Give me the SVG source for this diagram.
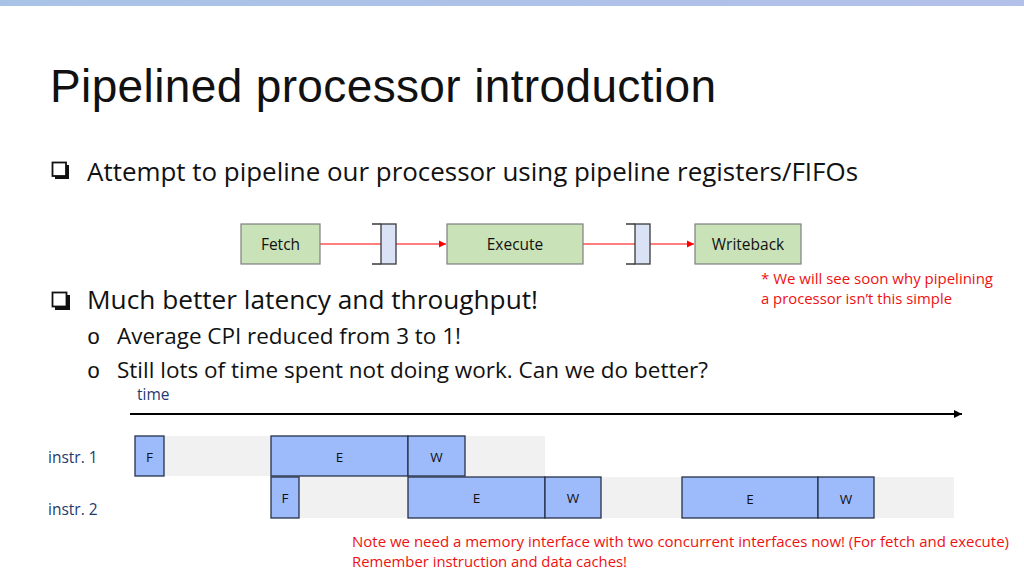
<svg xmlns="http://www.w3.org/2000/svg" width="1024" height="576" viewBox="0 0 1024 576">
<defs>
<linearGradient id="topbar" x1="0" y1="0" x2="1" y2="0">
<stop offset="0" stop-color="#A9C3E6"/>
<stop offset="1" stop-color="#B3C0EA"/>
</linearGradient>
<marker id="redArrow" markerWidth="8" markerHeight="8" refX="7" refY="4" orient="auto" markerUnits="userSpaceOnUse">
<path d="M0,0.5 L7,4 L0,7.5 Z" fill="#FF0000"/>
</marker>
<marker id="blackArrow" markerWidth="9" markerHeight="8" refX="8" refY="4" orient="auto" markerUnits="userSpaceOnUse">
<path d="M0,0 L8,4 L0,8 Z" fill="#000"/>
</marker>
</defs>
<style>
.title{font-family:"Liberation Sans",Arial,sans-serif;font-size:46px;fill:#111}
.bullet{font-family:"Open Sans","Noto Sans",sans-serif;font-size:25px;fill:#111}
.sub{font-family:"Open Sans","Noto Sans",sans-serif;font-size:22.5px;fill:#111}
.obul{font-family:"Liberation Mono",monospace;font-size:22px;fill:#111}
.stage{fill:#C9E2B8;stroke:#7F7F7F;stroke-width:1.2}
.stagetxt{font-family:"Open Sans","Noto Sans",sans-serif;font-size:15.5px;fill:#111;text-anchor:middle}
.reg{fill:#DAE3F6;stroke:#3A3A3A;stroke-width:1.3}
.regtick{stroke:#3A3A3A;stroke-width:1.3;fill:none}
.redline{stroke:#FF0000;stroke-width:1.2;fill:none}
.red{font-family:"Open Sans","Noto Sans",sans-serif;font-size:14.5px;fill:#EE1111}
.blue{font-family:"Open Sans","Noto Sans",sans-serif;font-size:15.5px;fill:#1F3A6E}
.bg{fill:#F1F1F1}
.blk{fill:#9DBAFB;stroke:#263248;stroke-width:1.3}
.blktxt{font-family:"Open Sans","Noto Sans",sans-serif;font-size:13.5px;fill:#111;text-anchor:middle}
</style>
<rect width="1024" height="576" fill="#FFFFFF"/>
<rect x="0" y="0" width="1024" height="6" fill="url(#topbar)"/>

<text class="title" x="50" y="102" textLength="666">Pipelined processor introduction</text>

<!-- bullet 1 -->
<g id="bullet1">
<path d="M55,165 h14 v14 h-14 Z" fill="#111"/>
<rect x="52.5" y="162.5" width="13.5" height="13.5" fill="#FFF" stroke="#111" stroke-width="1.8"/>
<text class="bullet" x="87" y="181" textLength="771" lengthAdjust="spacingAndGlyphs">Attempt to pipeline our processor using pipeline registers/FIFOs</text>
</g>

<!-- pipeline diagram -->
<g id="connectors">
<line class="redline" x1="320" y1="244" x2="381" y2="244"/>
<line class="redline" x1="396" y1="244" x2="446" y2="244" marker-end="url(#redArrow)"/>
<line class="redline" x1="583" y1="244" x2="635" y2="244"/>
<line class="redline" x1="650" y1="244" x2="694" y2="244" marker-end="url(#redArrow)"/>
</g>
<g id="fetch">
<rect class="stage" x="241" y="224" width="79" height="40"/>
<text class="stagetxt" x="280.5" y="250">Fetch</text>
</g>
<g id="reg1">
<rect class="reg" x="381" y="224" width="15" height="40"/>
<path class="regtick" d="M372,224 H381 M372,264 H381"/>
</g>
<g id="execute">
<rect class="stage" x="447" y="224" width="136" height="40"/>
<text class="stagetxt" x="515" y="250">Execute</text>
</g>
<g id="reg2">
<rect class="reg" x="635" y="224" width="15" height="40"/>
<path class="regtick" d="M626,224 H635 M626,264 H635"/>
</g>
<g id="writeback">
<rect class="stage" x="695" y="224" width="106" height="40"/>
<text class="stagetxt" x="748" y="250">Writeback</text>
</g>

<g id="note1">
<text class="red" x="761" y="284" textLength="232" lengthAdjust="spacingAndGlyphs">* We will see soon why pipelining</text>
<text class="red" x="761" y="304" textLength="191" lengthAdjust="spacingAndGlyphs">a processor isn’t this simple</text>
</g>

<!-- bullet 2 -->
<g id="bullet2">
<path d="M55,295 h15 v15 h-15 Z" fill="#111"/>
<rect x="52.5" y="292.5" width="14" height="14" fill="#FFF" stroke="#111" stroke-width="1.8"/>
<text class="bullet" x="87" y="309" textLength="451" lengthAdjust="spacingAndGlyphs">Much better latency and throughput!</text>
<text class="obul" x="87" y="344">o</text>
<text class="sub" x="117" y="344" textLength="344" lengthAdjust="spacingAndGlyphs">Average CPI reduced from 3 to 1!</text>
<text class="obul" x="87" y="378">o</text>
<text class="sub" x="117" y="378" textLength="591" lengthAdjust="spacingAndGlyphs">Still lots of time spent not doing work. Can we do better?</text>
</g>

<!-- timeline -->
<g id="timeline">
<text class="blue" x="137" y="400">time</text>
<line x1="130" y1="414" x2="962" y2="414" stroke="#000" stroke-width="2" marker-end="url(#blackArrow)"/>
</g>

<g id="instr1">
<text class="blue" x="48" y="463">instr. 1</text>
<rect class="bg" x="164" y="436" width="381" height="40"/>
<rect class="blk" x="135" y="436" width="29" height="40"/>
<text class="blktxt" x="149.5" y="462">F</text>
<rect class="blk" x="271" y="436" width="137" height="40"/>
<text class="blktxt" x="339.5" y="462">E</text>
<rect class="blk" x="408" y="436" width="57" height="40"/>
<text class="blktxt" x="436.5" y="462">W</text>
</g>

<g id="instr2">
<text class="blue" x="48" y="515">instr. 2</text>
<rect class="bg" x="299" y="477" width="655" height="41"/>
<rect class="blk" x="271" y="477" width="28" height="41"/>
<text class="blktxt" x="285" y="503">F</text>
<rect class="blk" x="408" y="477" width="137" height="41"/>
<text class="blktxt" x="476.5" y="503">E</text>
<rect class="blk" x="545" y="477" width="56" height="41"/>
<text class="blktxt" x="573" y="503">W</text>
<rect class="blk" x="682" y="477" width="136" height="41"/>
<text class="blktxt" x="750" y="504">E</text>
<rect class="blk" x="818" y="477" width="56" height="41"/>
<text class="blktxt" x="846" y="504">W</text>
</g>

<g id="note2">
<text class="red" x="352" y="547" textLength="657" lengthAdjust="spacingAndGlyphs">Note we need a memory interface with two concurrent interfaces now! (For fetch and execute)</text>
<text class="red" x="352" y="567" textLength="275" lengthAdjust="spacingAndGlyphs">Remember instruction and data caches!</text>
</g>
</svg>
